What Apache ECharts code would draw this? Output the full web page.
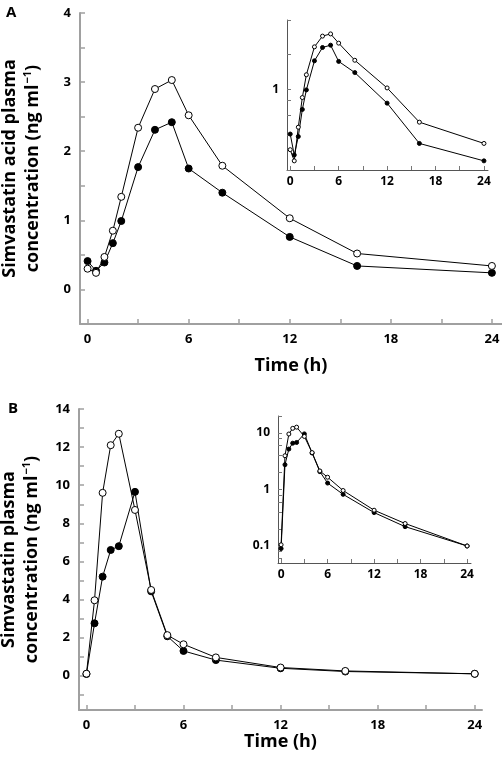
<!DOCTYPE html>
<html>
<head>
<meta charset="utf-8">
<script src="https://cdn.jsdelivr.net/npm/echarts@6/dist/echarts.min.js"></script>
<style>html,body{margin:0;padding:0;background:#fff}#c{width:502px;height:765px}</style>
</head>
<body>
<div id="c"></div>
<script>
const times = [0, 0.5, 1, 1.5, 2, 3, 4, 5, 6, 8, 12, 16, 24];
const aOpen = [0.30, 0.24, 0.47, 0.85, 1.34, 2.34, 2.90, 3.03, 2.52, 1.79, 1.03, 0.52, 0.34];
const aFilled = [0.41, 0.27, 0.39, 0.67, 0.99, 1.77, 2.31, 2.42, 1.75, 1.40, 0.76, 0.34, 0.24];
const bOpen = [0.105, 3.96, 9.6, 12.1, 12.7, 8.7, 4.5, 2.13, 1.65, 0.96, 0.43, 0.25, 0.1];
const bFilled = [0.09, 2.75, 5.2, 6.6, 6.8, 9.65, 4.43, 2.07, 1.3, 0.82, 0.39, 0.22, 0.1];

const xTicks = [0, 3, 6, 9, 12, 15, 18, 21, 24];
const xLabels = [0, 6, 12, 18, 24];
const aYTicks = [0, 0.5, 1, 1.5, 2, 2.5, 3, 3.5, 4];
const aYLabels = [0, 1, 2, 3, 4];
const bYTicks = [-1, 0, 1, 2, 3, 4, 5, 6, 7, 8, 9, 10, 11, 12, 13, 14];
const bYLabels = [0, 2, 4, 6, 8, 10, 12, 14];
const aInsetTicks = [0.2, 0.4, 0.6, 0.8, 1, 2, 4];
const aInsetLabels = [1];
const bInsetTicks = [0.06, 0.08, 0.1, 0.2, 0.4, 0.6, 0.8, 1, 2, 4, 6, 8, 10, 20];
const bInsetLabels = [0.1, 1, 10];

const FONT = '"Open Sans"';
const pairs = (ys) => times.map((t, i) => [t, ys[i]]);

function xAxisMain(grid, min, max, gap) {
  return {
    gridIndex: grid, type: 'value', min: min, max: max,
    axisLine: {onZero: false, lineStyle: {color: '#a0a0a0', width: 2}},
    axisTick: {inside: true, length: 5, customValues: xTicks, lineStyle: {color: '#a0a0a0', width: 1.5}},
    axisLabel: {customValues: xLabels, margin: 9, color: '#000', fontWeight: 'bold', fontSize: 13, fontFamily: FONT},
    splitLine: {show: false},
    name: 'Time (h)', nameLocation: 'middle', nameGap: gap,
    nameTextStyle: {color: '#000', fontWeight: 'bold', fontSize: 18, fontFamily: FONT}
  };
}
function yAxisMain(grid, min, max, ticks, labels, line1) {
  return {
    gridIndex: grid, type: 'value', min: min, max: max,
    axisLine: {onZero: false, lineStyle: {color: '#a0a0a0', width: 2}},
    axisTick: {inside: true, length: 5, customValues: ticks, lineStyle: {color: '#a0a0a0', width: 1.5}},
    axisLabel: {customValues: labels, margin: 9, color: '#000', fontWeight: 'bold', fontSize: 13, fontFamily: FONT},
    splitLine: {show: false},
    name: '{a|' + line1 + '}\n{a|concentration (ng ml}{s|−1}{a|)}',
    nameLocation: 'middle', nameGap: 36,
    nameTextStyle: {
      color: '#000', fontWeight: 'bold', fontSize: 18, fontFamily: FONT, lineHeight: 23,
      rich: {
        a: {color: '#000', fontWeight: 'bold', fontSize: 18, fontFamily: FONT, lineHeight: 23},
        s: {color: '#000', fontWeight: 'bold', fontSize: 11, fontFamily: FONT, lineHeight: 23, verticalAlign: 'top', padding: [1, 0, 0, 1]}
      }
    }
  };
}
function xAxisInset(grid) {
  return {
    gridIndex: grid, type: 'value', min: -0.4, max: 24.5,
    axisLine: {onZero: false, lineStyle: {color: '#555', width: 1}},
    axisTick: {inside: true, length: 4, customValues: xTicks, lineStyle: {color: '#777', width: 1}},
    axisLabel: {customValues: xLabels, margin: 6, color: '#000', fontWeight: 'bold', fontSize: 12, fontFamily: FONT},
    splitLine: {show: false}
  };
}
function yAxisInset(grid, min, max, ticks, labels) {
  return {
    gridIndex: grid, type: 'log', logBase: 10, min: min, max: max,
    axisLine: {onZero: false, lineStyle: {color: '#555', width: 1}},
    axisTick: {inside: true, length: 4, customValues: ticks, lineStyle: {color: '#777', width: 1}},
    axisLabel: {customValues: labels, margin: 8, color: '#000', fontWeight: 'bold', fontSize: 12, fontFamily: FONT},
    splitLine: {show: false}
  };
}
function series(xi, data, filled, size) {
  return {
    type: 'line', xAxisIndex: xi, yAxisIndex: xi, data: data,
    symbol: 'circle', symbolSize: size, showSymbol: true,
    lineStyle: {color: '#000', width: 1},
    itemStyle: {color: filled ? '#000' : '#fff', borderColor: '#000', borderWidth: 1},
    animation: false, silent: true, z: filled ? 2 : 3
  };
}

const chart = echarts.init(document.getElementById('c'), null, {renderer: 'canvas'});
chart.setOption({
  animation: false,
  backgroundColor: '#fff',
  textStyle: {fontFamily: FONT},
  title: [
    {text: 'A', left: 1, top: 0, textStyle: {fontSize: 15, fontWeight: 'bold', fontFamily: FONT, color: '#000'}},
    {text: 'B', left: 3, top: 396, textStyle: {fontSize: 15, fontWeight: 'bold', fontFamily: FONT, color: '#000'}}
  ],
  grid: [
    {left: 80, top: 13, width: 422, height: 311, containLabel: false, outerBoundsMode: 'none'},
    {left: 287, top: 20, width: 201, height: 150, containLabel: false, outerBoundsMode: 'none'},
    {left: 79, top: 409, width: 403, height: 301, containLabel: false, outerBoundsMode: 'none'},
    {left: 278, top: 416, width: 193, height: 147, containLabel: false, outerBoundsMode: 'none'}
  ],
  xAxis: [
    xAxisMain(0, -0.45, 24.6, 33),
    xAxisInset(1),
    xAxisMain(2, -0.46, 24.45, 23),
    xAxisInset(3)
  ],
  yAxis: [
    yAxisMain(0, -0.5, 4, aYTicks, aYLabels, 'Simvastatin acid plasma'),
    yAxisInset(1, 0.2, 4, aInsetTicks, aInsetLabels),
    yAxisMain(2, -1.8, 14, bYTicks, bYLabels, 'Simvastatin plasma'),
    yAxisInset(3, 0.05, 20, bInsetTicks, bInsetLabels)
  ],
  series: [
    series(0, pairs(aFilled), true, 7),
    series(0, pairs(aOpen), false, 7),
    series(1, pairs(aFilled), true, 4),
    series(1, pairs(aOpen), false, 4),
    series(2, pairs(bFilled), true, 7),
    series(2, pairs(bOpen), false, 7),
    series(3, pairs(bFilled), true, 4),
    series(3, pairs(bOpen), false, 4)
  ]
});
</script>
</body>
</html>
